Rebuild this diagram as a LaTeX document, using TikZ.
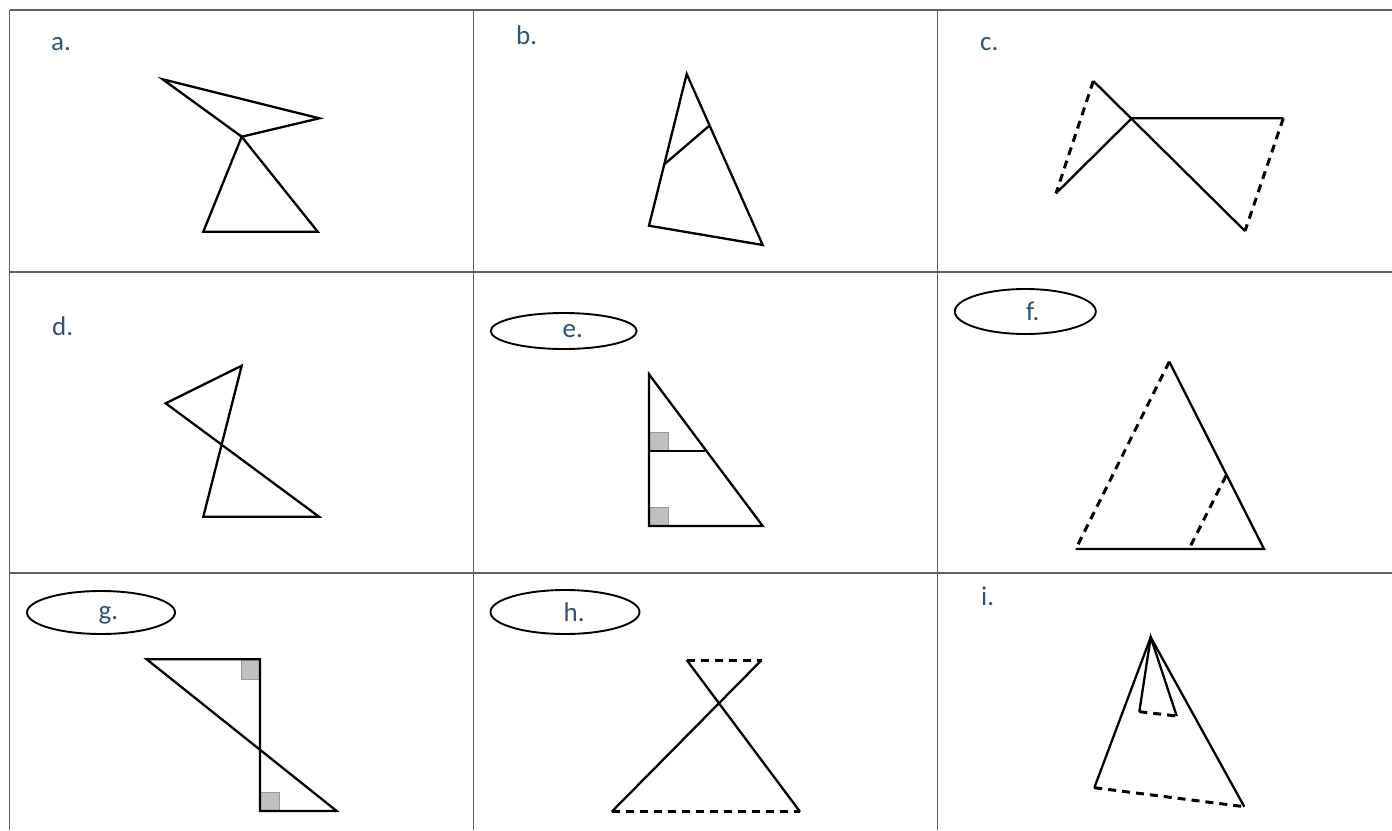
\documentclass[tikz,border=0pt]{standalone}
\usepackage{fontspec}
\setmainfont{Carlito}
\usetikzlibrary{shapes.geometric}
\definecolor{labc}{RGB}{47,84,117}
\definecolor{gridc}{RGB}{95,95,95}
\definecolor{sqc}{RGB}{192,192,192}
\begin{document}
\begin{tikzpicture}[x=1pt,y=-1pt,
  gridline/.style={draw=gridc, line width=1.4pt},
  fig/.style={draw=black, line width=2.3pt, line join=miter},
  dsh/.style={draw=black, line width=3pt, dash pattern=on 8pt off 6pt},
  lbl/.style={text=labc, font=\fontsize{27}{27}\selectfont, inner sep=0pt, anchor=base west},
  oval/.style={ellipse, draw=black, line width=1.9pt, inner sep=0pt},
  sq/.style={fill=sqc, draw=gray!80, line width=0.6pt}]
\useasboundingbox (0,0) rectangle (1392,830);
\fill[white] (0,0) rectangle (1392,830);
% ---------- table ----------
\coordinate (t0) at (9.5,10);   \coordinate (tR) at (1392,10);
\coordinate (r1) at (9.5,272);  \coordinate (r1R) at (1392,272);
\coordinate (r2) at (9.5,573);  \coordinate (r2R) at (1392,573);
\coordinate (b0) at (9.5,830);
\coordinate (c1t) at (473.5,10); \coordinate (c1b) at (473.5,830);
\coordinate (c2t) at (937.5,10); \coordinate (c2b) at (937.5,830);
\draw[gridline] (t0) -- (tR);
\draw[gridline] (r1) -- (r1R);
\draw[gridline] (r2) -- (r2R);
\draw[gridline] (t0) -- (b0);
\draw[gridline] (c1t) -- (c1b);
\draw[gridline] (c2t) -- (c2b);
% ---------- labels ----------
\node[lbl] (la) at (51,50.7) {a.};
\node[lbl] (lb) at (516,44) {b.};
\node[lbl] (lc) at (980,50) {c.};
\node[lbl] (ld) at (52,335) {d.};
\node[oval, minimum width=146pt, minimum height=36pt] (oe) at (563.7,331) {};
\node[lbl] (le) at (562.5,337.7) {e.};
\node[oval, minimum width=141pt, minimum height=45pt] (of) at (1025.3,311.5) {};
\node[lbl] (lf) at (1026,320.7) {f.};
\node[oval, minimum width=148pt, minimum height=43pt] (og) at (101,612.5) {};
\node[lbl] (lg) at (98.5,619.5) {g.};
\node[oval, minimum width=149pt, minimum height=44pt] (oh) at (565,612) {};
\node[lbl] (lh) at (563.5,621) {h.};
\node[lbl] (li) at (981,605.7) {i.};
% ---------- a ----------
\coordinate (aTL) at (162.7,79.3);
\coordinate (aR) at (319.3,118.3);
\coordinate (aC) at (241.7,136.7);
\coordinate (aBL) at (203.3,231.7);
\coordinate (aBR) at (317.7,231.7);
\draw[fig] (aTL) -- (aR) -- (aC) -- cycle;
\draw[fig] (aC) -- (aBL) -- (aBR) -- cycle;
% ---------- b ----------
\coordinate (bA) at (686.7,74);
\coordinate (bL) at (649,225.7);
\coordinate (bR) at (762.7,245);
\coordinate (bP) at (664.3,164.3);
\coordinate (bQ) at (709,126);
\draw[fig] (bA) -- (bL) -- (bR) -- cycle;
\draw[fig] (bP) -- (bQ);
% ---------- c ----------
\coordinate (cA) at (1093.3,81);
\coordinate (cO) at (1131.7,118.3);
\coordinate (cR) at (1283.3,118.3);
\coordinate (cL) at (1056,193.3);
\coordinate (cB) at (1245,231);
\draw[fig] (cA) -- (cB);
\draw[fig] (cL) -- (cO) -- (cR);
\draw[dsh] (cA) -- (cL);
\draw[dsh] (cR) -- (cB);
% ---------- d ----------
\coordinate (dT) at (241.7,365.7);
\coordinate (dL) at (165.7,403.3);
\coordinate (dBL) at (203.3,516.7);
\coordinate (dBR) at (319,516.7);
\draw[fig] (dL) -- (dT) -- (dBL) -- (dBR) -- cycle;
% ---------- e ----------
\coordinate (eT) at (649,374.3);
\coordinate (eBL) at (649,526);
\coordinate (eBR) at (762.7,526);
\coordinate (eM) at (649,450.7);
\coordinate (eN) at (705.3,450.7);
\coordinate (eS1) at (668,432.3);
\coordinate (eS2) at (668,507.7);
\fill[sq] (eM) rectangle (eS1);
\fill[sq] (eBL) rectangle (eS2);
\draw[fig] (eT) -- (eBL) -- (eBR) -- cycle;
\draw[fig] (eM) -- (eN);
% ---------- f ----------
\coordinate (fA) at (1169.3,361.7);
\coordinate (fBL) at (1075.7,549);
\coordinate (fBR) at (1264,549);
\coordinate (fP) at (1226,475.7);
\coordinate (fQ) at (1189,549);
\draw[fig] (fA) -- (fBR) -- (fBL);
\draw[dsh] (fA) -- (fBL);
\draw[dsh] (fP) -- (fQ);
% ---------- g ----------
\coordinate (gTL) at (146.7,659.3);
\coordinate (gTR) at (260,659.3);
\coordinate (gBL) at (260,811);
\coordinate (gBR) at (336.7,811);
\coordinate (gS1) at (241.7,679);
\coordinate (gS2) at (279.3,792.3);
\fill[sq] (gTR) rectangle (gS1);
\fill[sq] (gBL) rectangle (gS2);
\draw[fig] (gTL) -- (gTR) -- (gBL) -- (gBR) -- cycle;
% ---------- h ----------
\coordinate (hTL) at (686.7,660);
\coordinate (hTR) at (761.7,660);
\coordinate (hBL) at (611.7,811.7);
\coordinate (hBR) at (800,811.7);
\draw[fig] (hTL) -- (hBR);
\draw[fig] (hTR) -- (hBL);
\draw[dsh] (hTL) -- (hTR);
\draw[dsh] (hBL) -- (hBR);
% ---------- i ----------
\coordinate (iA) at (1150.7,637.3);
\coordinate (iIL) at (1139.3,711.7);
\coordinate (iIR) at (1176.7,716);
\coordinate (iOL) at (1094.3,787.7);
\coordinate (iOR) at (1244.3,806.7);
\draw[fig] (iIL) -- (iA) -- (iIR);
\draw[fig] (iOL) -- (iA) -- (iOR);
\draw[dsh] (iIL) -- (iIR);
\draw[dsh] (iOL) -- (iOR);
\end{tikzpicture}
\end{document}
